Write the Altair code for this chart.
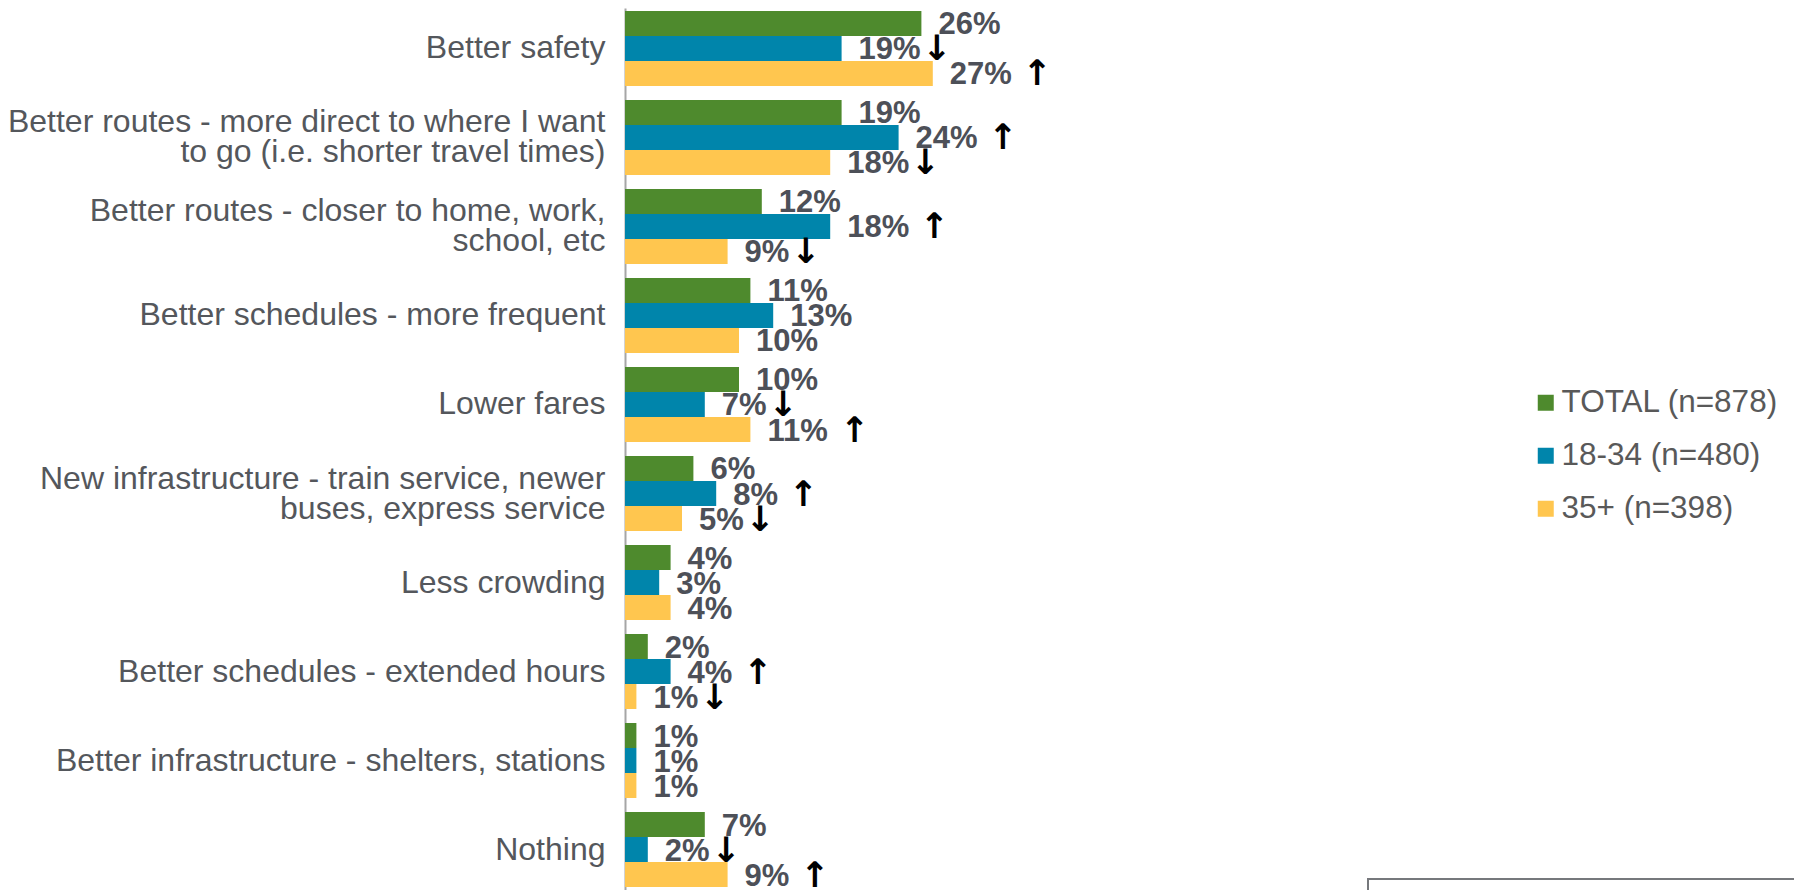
import altair as alt
import pandas as pd

categories = [
    "Better safety",
    "Better routes - more direct to where I want\nto go (i.e. shorter travel times)",
    "Better routes - closer to home, work,\nschool, etc",
    "Better schedules - more frequent",
    "Lower fares",
    "New infrastructure - train service, newer\nbuses, express service",
    "Less crowding",
    "Better schedules - extended hours",
    "Better infrastructure - shelters, stations",
    "Nothing",
]
groups = ["TOTAL (n=878)", "18-34 (n=480)", "35+ (n=398)"]
colors = ["#4E8A2D", "#0085AB", "#FFC64F"]

total = [26, 19, 12, 11, 10, 6, 4, 2, 1, 7]
age_18_34 = [19, 24, 18, 13, 7, 8, 3, 4, 1, 2]
age_35_plus = [27, 18, 9, 10, 11, 5, 4, 1, 1, 9]

sig_total = ["", "", "", "", "", "", "", "", "", ""]
sig_18_34 = ["↓", "↑", "↑", "", "↓", "↑", "", "↑", "", "↓"]
sig_35_plus = ["↑", "↓", "↓", "", "↑", "↓", "", "↓", "", "↑"]

rows = []
for g, vals, sigs in zip(groups, [total, age_18_34, age_35_plus], [sig_total, sig_18_34, sig_35_plus]):
    for c, v, s in zip(categories, vals, sigs):
        rows.append({"category": c, "group": g, "value": v, "sig": s})
df = pd.DataFrame(rows)

FONT = "Liberation Sans"

y_enc = alt.Y(
    "category:N",
    sort=categories,
    scale=alt.Scale(paddingInner=0.1573, paddingOuter=0.0337),
    axis=alt.Axis(
        title=None,
        labelExpr="split(datum.label, '\\n')",
        labelFont=FONT,
        labelFontSize=32,
        labelColor="#54575C",
        labelLimit=800,
        labelPadding=20,
        labelLineHeight=30,
        labelOffset={"condition": {"test": "indexof(datum.value, '\\n') >= 0", "value": -15}, "value": 0},
        ticks=False,
        domainColor="#A6A6A6",
        domainWidth=2,
        grid=False,
    ),
)
yoff = alt.YOffset("group:N", sort=groups)
x_enc = alt.X("value:Q", scale=alt.Scale(domain=[0, 30]), axis=None)

base = alt.Chart(df).encode(y=y_enc, yOffset=yoff, x=x_enc)

bars = base.mark_bar().encode(
    color=alt.Color(
        "group:N",
        sort=groups,
        scale=alt.Scale(domain=groups, range=colors),
        legend=alt.Legend(
            title=None,
            orient="none",
            legendX=905,
            legendY=379,
            symbolType="square",
            symbolSize=256,
            symbolStrokeWidth=0,
            labelFont=FONT,
            labelFontSize=31.5,
            labelColor="#595959",
            labelLimit=500,
            labelOffset=0,
            rowPadding=20,
            padding=0,
        ),
    )
)

labels = base.transform_calculate(lbl="datum.value + '%'").mark_text(
    align="left", baseline="middle", dx=17, dy=2, font=FONT, fontSize=31, fontWeight="bold", color="#4D5058"
).encode(text="lbl:N")

layers = [bars, labels]
arrow_dx = {(2, "↓"): 95, (2, "↑"): 104, (1, "↓"): 78, (1, "↑"): 87}
for (nd, s), dx in arrow_dx.items():
    cond = "datum.value >= 10" if nd == 2 else "datum.value < 10"
    layers.append(
        base.transform_filter(f"datum.sig == '{s}' && {cond}").mark_text(
            align="center", baseline="middle", dx=dx, dy=1, font="DejaVu Sans", fontSize=35, fontWeight="bold", color="#000000"
        ).encode(text="sig:N")
    )

box = alt.Chart(pd.DataFrame({"k": [0]})).mark_rect(
    fill="white", stroke="#76787C", strokeWidth=2
).encode(x=alt.value(743), x2=alt.value(1250), y=alt.value(871), y2=alt.value(980))
layers.append(box)

chart = alt.layer(*layers).properties(
    width=342,
    height=882,
    autosize=alt.AutoSizeParams(type="none"),
    padding={"left": 617, "top": 0, "right": 827, "bottom": 0},
).configure_view(stroke=None)

chart.save("out.html", embed_options={"renderer": "svg", "actions": False})
